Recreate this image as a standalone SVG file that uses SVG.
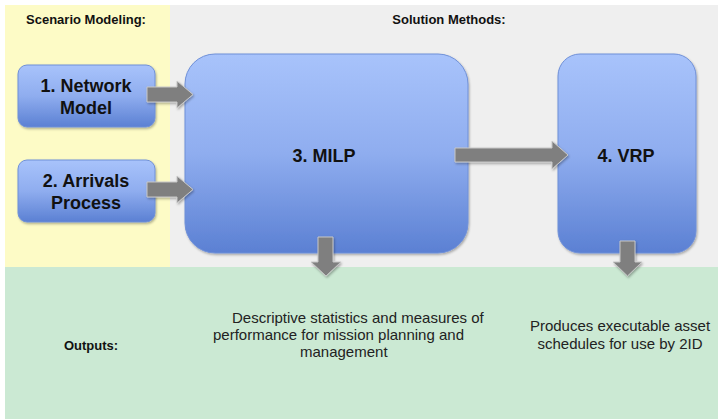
<svg xmlns="http://www.w3.org/2000/svg" width="718" height="419" viewBox="0 0 718 419">
<style>
.hdr{font-family:"Liberation Sans",Arial,sans-serif;font-weight:bold;font-size:13px;fill:#111;text-anchor:middle}
.lbl{font-family:"Liberation Sans",Arial,sans-serif;font-weight:bold;font-size:18px;fill:#111;text-anchor:middle}
.out{font-family:"Liberation Sans",Arial,sans-serif;font-size:15px;fill:#222}
.node{fill:url(#g);stroke:#6f90d8;stroke-width:1;filter:url(#sh)}
.arr{fill:#7f7f7f;stroke:#c8c8c8;stroke-width:1;filter:url(#sh)}
</style>
<defs>
<linearGradient id="g" x1="0" y1="0" x2="0" y2="1">
<stop offset="0" stop-color="#a8c3fb"/>
<stop offset="0.5" stop-color="#8fadef"/>
<stop offset="1" stop-color="#5b80d3"/>
</linearGradient>
<filter id="sh" x="-10%" y="-10%" width="125%" height="125%">
<feDropShadow dx="1" dy="1.5" stdDeviation="1.2" flood-color="#000" flood-opacity="0.3"/>
</filter>
</defs>
<rect x="0" y="0" width="718" height="419" fill="#ffffff"/>
<rect x="5" y="5" width="165" height="262" fill="#fdfbc6"/>
<rect x="170" y="5" width="548" height="262" fill="#efefef"/>
<rect x="5" y="267" width="713" height="152" fill="#cbe9d3"/>
<text class="hdr" x="86" y="24">Scenario Modeling:</text>
<text class="hdr" x="449" y="24">Solution Methods:</text>
<text class="hdr" x="91" y="350">Outputs:</text>
<g id="n1">
<rect class="node" x="18" y="65" width="137" height="62" rx="9"/>
<text class="lbl" x="86" y="92">1. Network</text>
<text class="lbl" x="86" y="114">Model</text>
</g>
<g id="n2">
<rect class="node" x="18" y="160" width="137" height="62" rx="9"/>
<text class="lbl" x="86" y="187">2. Arrivals</text>
<text class="lbl" x="86" y="209">Process</text>
</g>
<g id="n3">
<rect class="node" x="185" y="54" width="283" height="199" rx="30"/>
<text class="lbl" x="324" y="162">3. MILP</text>
</g>
<g id="n4">
<rect class="node" x="558" y="54" width="138" height="199" rx="22"/>
<text class="lbl" x="626" y="162">4. VRP</text>
</g>
<g id="connectors">
<polygon class="arr" points="147,87 177,87 177,81 193,94.5 177,108 177,102 147,102"/>
<polygon class="arr" points="147,182 177,182 177,176 193,189.5 177,203 177,197 147,197"/>
<polygon class="arr" points="455,148 552,148 552,141 568,155 552,169 552,162 455,162"/>
<polygon class="arr" points="318,237 333,237 333,262 341,262 326,276 311,262 318,262"/>
<polygon class="arr" points="620,241 635,241 635,262 642,262 627.5,276 613,262 620,262"/>
</g>
<g id="outputs">
<text class="out" x="232" y="323">Descriptive statistics and measures of</text>
<text class="out" x="213" y="340">performance for mission planning and</text>
<text class="out" x="300" y="357">management</text>
<text class="out" x="620" y="331" text-anchor="middle">Produces executable asset</text>
<text class="out" x="620" y="349" text-anchor="middle">schedules for use by 2ID</text>
</g>
</svg>
